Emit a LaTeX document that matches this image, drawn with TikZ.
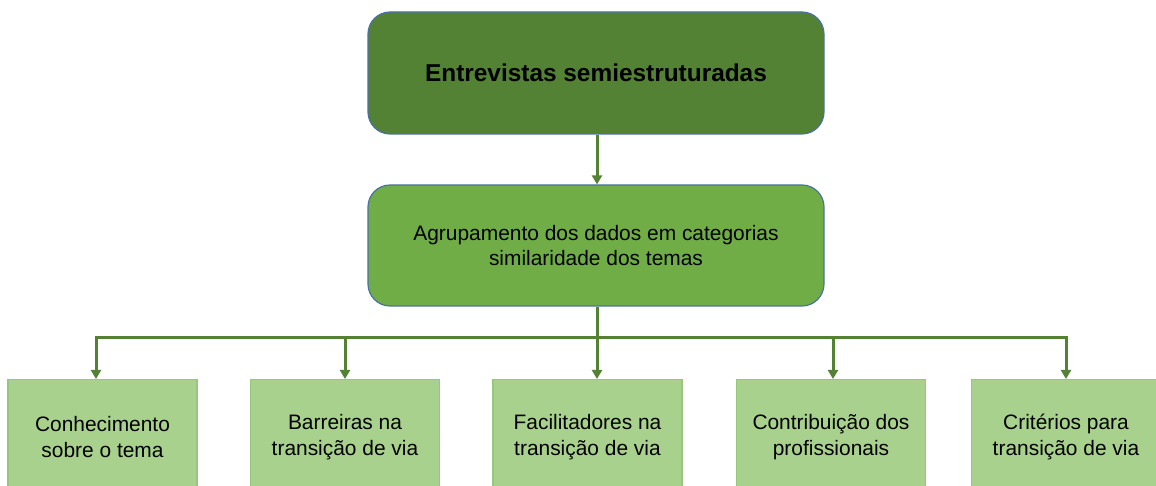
\documentclass[tikz,border=0pt]{standalone}
\usepackage{fontspec}
\setmainfont{Liberation Sans}
\usetikzlibrary{arrows.meta}
\definecolor{dkgreen}{HTML}{548235}
\definecolor{midgreen}{HTML}{70AD47}
\definecolor{ltgreen}{HTML}{A9D18E}
\definecolor{ltborder}{HTML}{97C77A}
\definecolor{blueborder}{HTML}{4A72A0}
\tikzset{
  topbox/.style={draw=blueborder, line width=1.2bp, fill=dkgreen, rounded corners=22bp, minimum width=456bp, minimum height=122bp, font=\fontsize{24.5}{29}\selectfont\bfseries, align=center},
  midbox/.style={draw=blueborder, line width=1.2bp, fill=midgreen, rounded corners=22bp, minimum width=456bp, minimum height=121bp, font=\fontsize{21}{26}\selectfont, align=center},
  leafbox/.style={draw=ltborder, line width=1.2bp, fill=ltgreen, minimum width=189bp, minimum height=115bp, font=\fontsize{21}{26}\selectfont, align=center},
  conn/.style={draw=dkgreen, line width=3bp, -{Triangle[length=9bp,width=10bp]}},
  plain/.style={draw=dkgreen, line width=3bp}
}
\begin{document}
\begin{tikzpicture}[x=1bp,y=-1bp]
\useasboundingbox (0,0) rectangle (1156,486);
\node[topbox] (top) at (596,73) {Entrevistas semiestruturadas};
\node[midbox] (mid) at (596,245.5) {Agrupamento dos dados em categorias\\similaridade dos temas};
\node[leafbox, anchor=north] (b1) at (102.5,379) {Conhecimento\\sobre o tema};
\node[leafbox, anchor=north] (b2) at (345,379) {Barreiras na\\transição de via};
\node[leafbox, anchor=north] (b3) at (587.5,379) {Facilitadores na\\transição de via};
\node[leafbox, anchor=north] (b4) at (831,379) {Contribuição dos\\profissionais};
\node[leafbox, anchor=north] (b5) at (1066,379) {Critérios para\\transição de via};
\coordinate (j) at (597,338);
\coordinate (t1) at (96,379);
\coordinate (t3) at (597,379);
\coordinate (t4) at (833,379);
\draw[conn] (top.south -| j) -- (mid.north -| j);
\draw[plain] (mid.south -| j) -- (j);
\draw[conn] (j) -| (t1);
\draw[conn] (j) -| (b2.north);
\draw[conn] (j) -- (t3);
\draw[conn] (j) -| (t4);
\draw[conn] (j) -| (b5.north);
\end{tikzpicture}
\end{document}
